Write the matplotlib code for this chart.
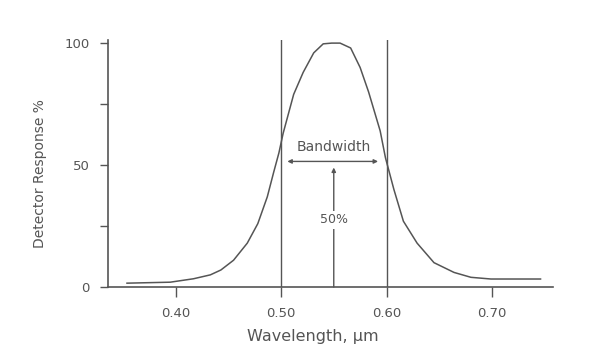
import numpy as np
import matplotlib
matplotlib.use("Agg")
import matplotlib.pyplot as plt

## detector response curve
wavelength = [0.354, 0.395, 0.417, 0.433, 0.443, 0.455, 0.468, 0.478, 0.487, 0.493,
              0.498, 0.502, 0.512, 0.521, 0.531, 0.540, 0.548, 0.556, 0.566, 0.575,
              0.583, 0.594, 0.599, 0.607, 0.616, 0.629, 0.645, 0.664, 0.680, 0.699,
              0.746]
response = [1.6, 2.0, 3.4, 5.0, 7.0, 11, 18, 26, 37, 47,
            55, 63, 79, 88, 96, 99.7, 100, 100, 98, 90,
            80, 64, 53, 40, 27, 18, 10, 6, 4, 3.3,
            3.3]

band_edges = [0.50, 0.60]
band_arrow = [0.506, 0.592]
centre = 0.55

x_ticks = [0.40, 0.50, 0.60, 0.70]
x_ticklabels = ["0.40", "0.50", "0.60", "0.70"]
y_ticks = [0, 50, 100]
y_minor = [25, 75]

ink = "#555555"
plt.rcParams['font.family'] = ['DejaVu Sans']

fig = plt.figure(figsize=(6, 3.62), dpi=100)
ax = fig.add_axes([0.18, 0.207, 0.742, 0.682])

ax.plot(wavelength, response, color=ink, lw=1.1, solid_joinstyle="round")

## band edge lines
for b in band_edges:
    ax.axvline(b, color=ink, lw=1.0)

## bandwidth arrow and 50% arrow
ax.annotate("", xy=(band_arrow[0], 51.5), xytext=(band_arrow[1], 51.5),
            arrowprops=dict(arrowstyle="<|-|>", color=ink, lw=1.0,
                            mutation_scale=6, shrinkA=0, shrinkB=0))
ax.text(centre, 57.5, "Bandwidth", ha="center", va="center", fontsize=10, color=ink)
ax.annotate("", xy=(centre, 49), xytext=(centre, 0),
            arrowprops=dict(arrowstyle="-|>", color=ink, lw=1.0,
                            mutation_scale=6, shrinkA=0, shrinkB=0))
ax.text(centre, 27.5, "50%", ha="center", va="center", fontsize=9, color=ink,
        bbox=dict(facecolor="white", edgecolor="none", pad=1.5))

ax.set_xlim(0.336, 0.758)
ax.set_ylim(0, 101.2)

ax.set_xticks(x_ticks)
ax.set_xticklabels(x_ticklabels)
ax.set_yticks(y_ticks)
ax.set_yticks(y_minor, minor=True)
ax.tick_params(axis="both", colors=ink, labelcolor=ink, labelsize=9.5, width=1.0)
ax.tick_params(axis="x", length=7, pad=7)
ax.tick_params(axis="y", which="major", length=6, pad=7)
ax.tick_params(axis="y", which="minor", length=6, width=1.0, color=ink)

for s in ["top", "right"]:
    ax.spines[s].set_visible(False)
for s in ["left", "bottom"]:
    ax.spines[s].set_color(ink)
    ax.spines[s].set_linewidth(1.2)

ax.set_xlabel("Wavelength, \u00b5m", fontsize=11.5, color=ink)
ax.xaxis.set_label_coords(0.46, -0.17)
ax.set_ylabel("Detector Response %", fontsize=10, color=ink)
ax.yaxis.set_label_coords(-0.137, 0.46)

fig.savefig("out.png", dpi=100)
